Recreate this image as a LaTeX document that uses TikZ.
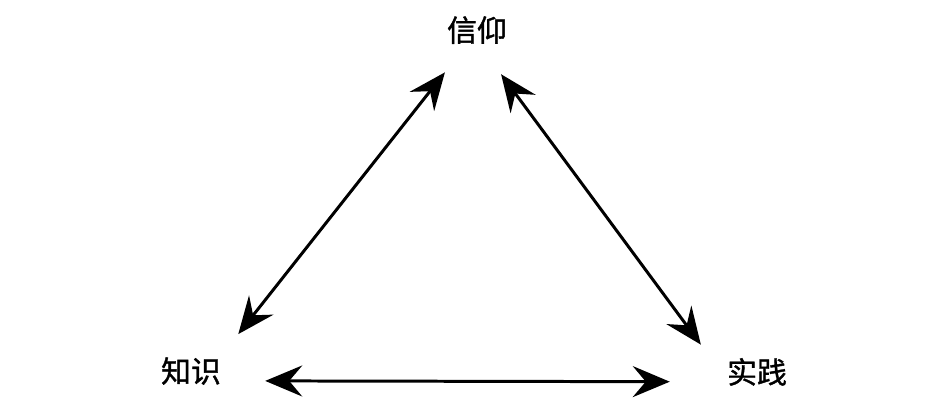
\documentclass[tikz,border=0pt]{standalone}
\usepackage{fontspec}
\newfontfamily\cjk[FakeBold=1.2]{Noto Sans CJK SC}
\usetikzlibrary{arrows.meta}

\begin{document}
\begin{tikzpicture}
        \tikzset{concept/.style={font=\cjk\fontsize{17}{20}\selectfont,
                inner sep=0pt, text height=15pt, text depth=2pt},
            link/.style={line width=1.7pt,
                >={Stealth[length=7.4mm,width=6.2mm,inset=2.6mm]}, <->}}
        \useasboundingbox (0,0) rectangle (18.9,8.26);
        \node[concept] (xy) at (9.54,7.66) {信仰};
        \node[concept] (zs) at (3.82,0.84) {知识};
        \node[concept] (sj) at (15.14,0.82) {实践};
        \draw[link, shorten <=5.5mm, shorten >=6.9mm] (zs.north east) -- (xy.235);
        \draw[link, shorten <=7.2mm, shorten >=3mm] (xy.-80) -- ([xshift=-3.4mm]sj.north west);
        \draw[link, shorten <=8.8mm, shorten >=11.4mm] (zs.-18) -- (sj.198);
\end{tikzpicture}
\end{document}
